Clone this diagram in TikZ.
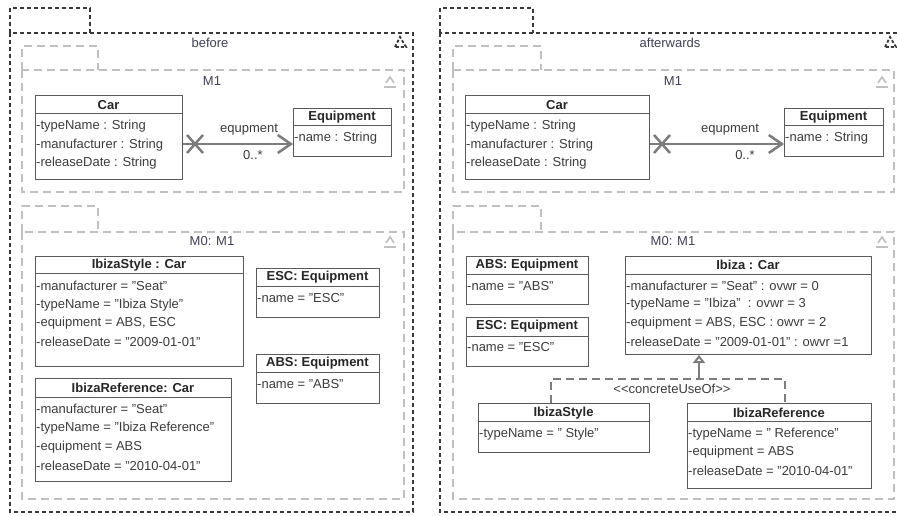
\documentclass[tikz,border=0pt]{standalone}
\usepackage{fontspec}
\setmainfont{Liberation Sans}
\usetikzlibrary{arrows.meta}
\definecolor{outerc}{HTML}{383838}
\definecolor{pkgc}{HTML}{C0C0C0}
\definecolor{clsc}{HTML}{5A5A5A}
\definecolor{txtc}{HTML}{3C3C3C}
\definecolor{ttlc}{HTML}{262626}
\definecolor{plc}{HTML}{404058}
\definecolor{assocc}{HTML}{7C7C7C}
\tikzset{
  outerline/.style={draw=outerc, line width=2.4pt, dash pattern=on 4pt off 3pt},
  pkgline/.style={draw=pkgc, line width=2.2pt, dash pattern=on 8pt off 5pt},
  cls/.style={draw=clsc, line width=1pt, fill=white, anchor=north west, inner sep=0pt},
  hdrline/.style={draw=clsc, line width=1pt},
  ttl/.style={font=\fontsize{13}{15}\selectfont\bfseries, text=ttlc, inner sep=0pt},
  attr/.style={font=\fontsize{13}{15}\selectfont, text=txtc, anchor=west, inner sep=0pt},
  plabel/.style={font=\fontsize{13}{15}\selectfont, text=plc, inner sep=0pt},
  alabel/.style={font=\fontsize{13}{15}\selectfont, text=txtc, inner sep=0pt},
  assocline/.style={draw=assocc, line width=2.5pt, -{Straight Barb[length=13pt,width=18pt,line width=2.5pt]}},
  xmark/.style={draw=assocc, line width=2.5pt},
  depline/.style={draw=assocc, line width=2.5pt, dash pattern=on 8pt off 5pt},
  genline/.style={draw=assocc, line width=2.5pt, -{Triangle[open,length=8pt,width=12pt,line width=2.2pt]}},
  pkgicon/.pic={\draw[pkgc, line width=1.6pt] (-4,2) -- (0,-4) -- (4,2); \draw[pkgc, line width=1.6pt] (-6,6) -- (6,6);},
  outicon/.pic={\draw[outerc, line width=1.8pt, dash pattern=on 3pt off 2pt] (-6,5) -- (-1,-5) -- (5,5) -- cycle;}
}
\begin{document}
\begin{tikzpicture}[x=1pt,y=-1pt]
\useasboundingbox (0,0) rectangle (897,516);
\fill[white] (0,0) rectangle (897,516);

% ================= LEFT: before =================
\draw[outerline] (10,33) -- (10,8) -- (90,8) -- (90,33);
\draw[outerline] (10,33) rectangle (413,512);
\node[plabel] (lbefore) at (210,43) {before};
\pic at (401,42) {outicon};

% M1 package
\draw[pkgline] (22,70) -- (22,46) -- (98,46) -- (98,70);
\draw[pkgline] (22,70) rectangle (404,192);
\node[plabel] (lm1) at (212,81) {M1};
\pic at (390,81) {pkgicon};

% Car
\node[cls, minimum width=147pt, minimum height=84pt] (carA) at (35,95) {};
\draw[hdrline] (35,114) -- (182,114);
\node[ttl] (carAt) at (108.5,105) {Car};
\node[attr] (carA1) at (36,126) {-typeName : String};
\node[attr] (carA2) at (36,145) {-manufacturer : String};
\node[attr] (carA3) at (36,163) {-releaseDate : String};

% Equipment
\node[cls, minimum width=98pt, minimum height=48pt] (eqA) at (293,108) {};
\draw[hdrline] (293,126) -- (391,126);
\node[ttl] (eqAt) at (342,117) {Equipment};
\node[attr] (eqA1) at (294,138) {-name : String};

\coordinate (yA) at (0,144);
\draw[assocline] (carA.east |- yA) -- (eqA.west |- yA);
\coordinate (xA) at (195,144);
\draw[xmark] ([shift={(-8,-9)}]xA) -- ([shift={(8,9)}]xA);
\draw[xmark] ([shift={(-8,9)}]xA) -- ([shift={(8,-9)}]xA);
\node[alabel] (eqnA) at (249,130) {equpment};
\node[alabel] (mulA) at (253,155) {0..*};

% M0: M1 package
\draw[pkgline] (22,232) -- (22,206) -- (98,206) -- (98,232);
\draw[pkgline] (22,232) rectangle (404,499);
\node[plabel] (lm0) at (212,241) {M0: M1};
\pic at (390,241) {pkgicon};

% IbizaStyle : Car
\node[cls, minimum width=208pt, minimum height=110pt] (isA) at (35,256) {};
\draw[hdrline] (35,273) -- (243,273);
\node[ttl] (isAt) at (139,265) {IbizaStyle : Car};
\node[attr] (isA1) at (36,286) {-manufacturer = "Seat"};
\node[attr] (isA2) at (36,305) {-typeName = "Ibiza Style"};
\node[attr] (isA3) at (36,323) {-equipment = ABS, ESC};
\node[attr] (isA4) at (36,342) {-releaseDate = "2009-01-01"};

% IbizaReference: Car
\node[cls, minimum width=196pt, minimum height=103pt] (irA) at (35,378) {};
\draw[hdrline] (35,397) -- (231,397);
\node[ttl] (irAt) at (133,388) {IbizaReference: Car};
\node[attr] (irA1) at (36,409) {-manufacturer = "Seat"};
\node[attr] (irA2) at (36,428) {-typeName = "Ibiza Reference"};
\node[attr] (irA3) at (36,447) {-equipment = ABS};
\node[attr] (irA4) at (36,466) {-releaseDate = "2010-04-01"};

% ESC: Equipment
\node[cls, minimum width=123pt, minimum height=49pt] (escA) at (256,268) {};
\draw[hdrline] (256,286) -- (379,286);
\node[ttl] (escAt) at (317.5,277) {ESC: Equipment};
\node[attr] (escA1) at (257,298) {-name = "ESC"};

% ABS: Equipment
\node[cls, minimum width=123pt, minimum height=49pt] (absA) at (256,354) {};
\draw[hdrline] (256,372) -- (379,372);
\node[ttl] (absAt) at (317.5,363) {ABS: Equipment};
\node[attr] (absA1) at (257,384) {-name = "ABS"};

% ================= RIGHT: afterwards =================
\draw[outerline] (440,33) -- (440,8) -- (533,8) -- (533,33);
\draw[outerline] (440,33) rectangle (900,512);
\node[plabel] (lafter) at (670,43) {afterwards};
\pic at (891,42) {outicon};

% M1 package
\draw[pkgline] (453,70) -- (453,46) -- (541,46) -- (541,70);
\draw[pkgline] (453,70) rectangle (894,192);
\node[plabel] (rm1) at (673,81) {M1};
\pic at (882,81) {pkgicon};

% Car
\node[cls, minimum width=184pt, minimum height=84pt] (carB) at (465,95) {};
\draw[hdrline] (465,114) -- (649,114);
\node[ttl] (carBt) at (557,105) {Car};
\node[attr] (carB1) at (466,126) {-typeName : String};
\node[attr] (carB2) at (466,145) {-manufacturer : String};
\node[attr] (carB3) at (466,163) {-releaseDate : String};

% Equipment
\node[cls, minimum width=99pt, minimum height=48pt] (eqB) at (784,108) {};
\draw[hdrline] (784,126) -- (883,126);
\node[ttl] (eqBt) at (833.5,117) {Equipment};
\node[attr] (eqB1) at (785,138) {-name : String};

\coordinate (yB) at (0,144);
\draw[assocline] (carB.east |- yB) -- (eqB.west |- yB);
\coordinate (xB) at (662,144);
\draw[xmark] ([shift={(-8,-9)}]xB) -- ([shift={(8,9)}]xB);
\draw[xmark] ([shift={(-8,9)}]xB) -- ([shift={(8,-9)}]xB);
\node[alabel] (eqnB) at (730,130) {equpment};
\node[alabel] (mulB) at (745,155) {0..*};

% M0: M1 package
\draw[pkgline] (453,232) -- (453,206) -- (541,206) -- (541,232);
\draw[pkgline] (453,232) rectangle (894,499);
\node[plabel] (rm0) at (673,241) {M0: M1};
\pic at (882,241) {pkgicon};

% ABS: Equipment
\node[cls, minimum width=122pt, minimum height=48pt] (absB) at (466,256) {};
\draw[hdrline] (466,274) -- (588,274);
\node[ttl] (absBt) at (527,265) {ABS: Equipment};
\node[attr] (absB1) at (467,286) {-name = "ABS"};

% ESC: Equipment
\node[cls, minimum width=122pt, minimum height=49pt] (escB) at (466,317) {};
\draw[hdrline] (466,336) -- (588,336);
\node[ttl] (escBt) at (527,326) {ESC: Equipment};
\node[attr] (escB1) at (467,347) {-name = "ESC"};

% Ibiza : Car
\node[cls, minimum width=246pt, minimum height=98pt] (ibB) at (625,256) {};
\draw[hdrline] (625,274) -- (871,274);
\node[ttl] (ibBt) at (748,265) {Ibiza : Car};
\node[attr] (ibB1) at (626,286) {-manufacturer = "Seat" : ovwr = 0};
\node[attr] (ibB2) at (626,304) {-typeName = "Ibiza"\ \ : ovwr = 3};
\node[attr] (ibB3) at (626,323) {-equipment = ABS, ESC : owvr = 2};
\node[attr] (ibB4) at (626,342) {-releaseDate = "2009-01-01" : owvr =1};

% IbizaStyle
\node[cls, minimum width=171pt, minimum height=49pt] (isB) at (478,403) {};
\draw[hdrline] (478,421) -- (649,421);
\node[ttl] (isBt) at (563.5,413) {IbizaStyle};
\node[attr] (isB1) at (479,434) {-typeName = " Style"};

% IbizaReference
\node[cls, minimum width=184pt, minimum height=85pt] (irB) at (687,403) {};
\draw[hdrline] (687,421) -- (871,421);
\node[ttl] (irBt) at (779,413) {IbizaReference};
\node[attr] (irB1) at (688,434) {-typeName = " Reference"};
\node[attr] (irB2) at (688,452) {-equipment = ABS};
\node[attr] (irB3) at (688,471) {-releaseDate = "2010-04-01"};

% concreteUseOf
\coordinate (dl) at (551,379);
\coordinate (dr) at (785,379);
\coordinate (jn) at (699,379);
\draw[depline] (isB.north -| dl) -- (dl) -- (dr) -- (irB.north -| dr);
\draw[genline] (jn) -- (ibB.south -| jn);
\node[alabel] (cuo) at (672,389) {<\kern0pt<concreteUseOf>\kern0pt>};
\end{tikzpicture}
\end{document}
